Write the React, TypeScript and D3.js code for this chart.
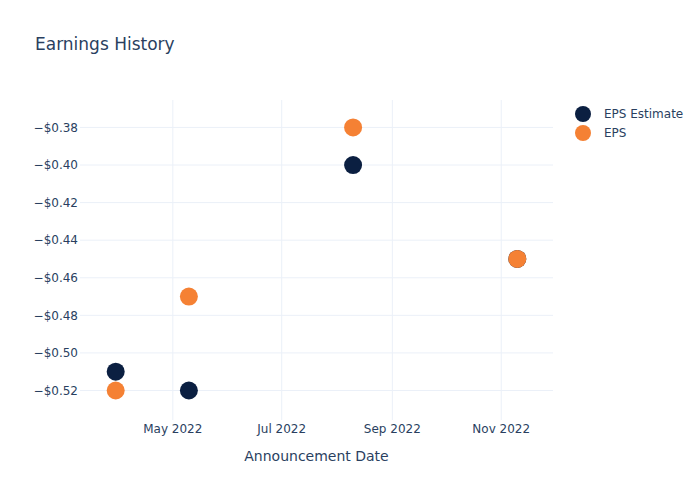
import React from "react";
import * as d3 from "d3";

const dates = ["2022-03-30", "2022-05-10", "2022-08-10", "2022-11-10"];
const epsEstimate = [-0.51, -0.52, -0.4, -0.45];
const epsActual = [-0.52, -0.47, -0.38, -0.45];
const yTicks = [-0.38, -0.4, -0.42, -0.44, -0.46, -0.48, -0.5, -0.52];
const xTicks = ["2022-05-01", "2022-07-01", "2022-09-01", "2022-11-01"];
const seriesNames = ["EPS Estimate", "EPS"];

const W = 700;
const H = 500;
const plot = { left: 80, right: 553, top: 100, bottom: 420 };
const NAVY = "#0b1f41";
const ORANGE = "#f58134";
const TEXT = "#2a3f5f";
const GRID = "#ebf0f8";
const FONT = "'DejaVu Sans', Verdana, sans-serif";

const parse = d3.utcParse("%Y-%m-%d");

export default function App() {
  const x = d3
    .scaleUtc()
    .domain([parse("2022-03-10")!, parse("2022-11-30")!])
    .range([plot.left, plot.right]);
  const y = d3
    .scaleLinear()
    .domain([-0.5357, -0.3654])
    .range([plot.bottom, plot.top]);
  const fmtX = d3.utcFormat("%b %Y");
  const fmtY = (v: number) => "\u2212$" + Math.abs(v).toFixed(2);

  const est = dates.map((d, i) => ({ x: x(parse(d)!), y: y(epsEstimate[i]) }));
  const act = dates.map((d, i) => ({ x: x(parse(d)!), y: y(epsActual[i]) }));

  return (
    <svg
      width={W}
      height={H}
      style={{ position: "absolute", left: 0, top: 0, background: "#fff" }}
      fontFamily={FONT}
    >
      <rect width={W} height={H} fill="#fff" />
      {xTicks.map((t) => (
        <line
          key={"gx" + t}
          x1={x(parse(t)!)}
          x2={x(parse(t)!)}
          y1={plot.top}
          y2={plot.bottom}
          stroke={GRID}
          strokeWidth={1}
        />
      ))}
      {yTicks.map((t) => (
        <line
          key={"gy" + t}
          x1={plot.left}
          x2={plot.right}
          y1={y(t)}
          y2={y(t)}
          stroke={GRID}
          strokeWidth={1}
        />
      ))}
      {yTicks.map((t) => (
        <text
          key={"ty" + t}
          x={plot.left - 2}
          y={y(t)}
          dy="0.35em"
          textAnchor="end"
          fontSize={12}
          fill={TEXT}
        >
          {fmtY(t)}
        </text>
      ))}
      {xTicks.map((t) => (
        <text
          key={"tx" + t}
          x={x(parse(t)!)}
          y={plot.bottom + 4}
          dy="0.71em"
          textAnchor="middle"
          fontSize={12}
          fill={TEXT}
        >
          {fmtX(parse(t)!)}
        </text>
      ))}
      {est.map((p, i) => (
        <circle key={"e" + i} cx={p.x} cy={p.y} r={9} fill={NAVY} />
      ))}
      {act.map((p, i) => (
        <circle key={"a" + i} cx={p.x} cy={p.y} r={9} fill={ORANGE} />
      ))}
      <text x={35} y={50} fontSize={17} fill={TEXT}>
        Earnings History
      </text>
      <text
        x={(plot.left + plot.right) / 2}
        y={461}
        textAnchor="middle"
        fontSize={14}
        fill={TEXT}
      >
        Announcement Date
      </text>
      {seriesNames.map((n, i) => (
        <g key={n} transform={`translate(583, ${114 + i * 19})`}>
          <circle r={8} fill={i === 0 ? NAVY : ORANGE} />
          <text x={21} dy="0.35em" fontSize={12} fill={TEXT}>
            {n}
          </text>
        </g>
      ))}
    </svg>
  );
}
